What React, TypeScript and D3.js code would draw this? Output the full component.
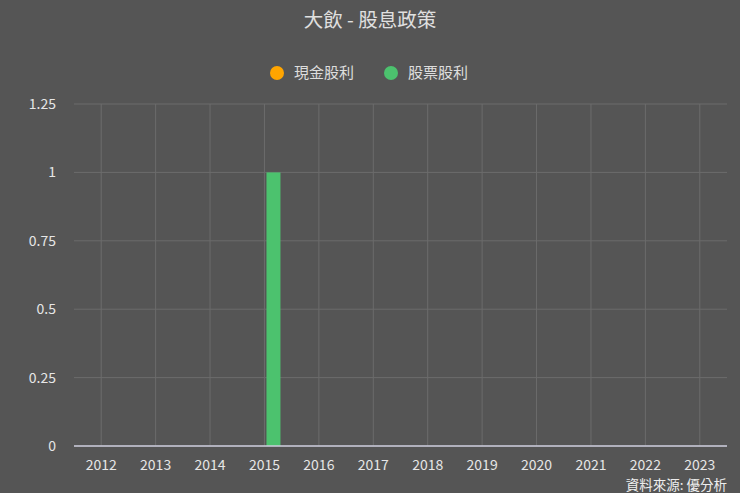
import React from "react"
import * as d3 from "d3"

const years = ["2012", "2013", "2014", "2015", "2016", "2017", "2018", "2019", "2020", "2021", "2022", "2023"]
const cashDividend = [0, 0, 0, 0, 0, 0, 0, 0, 0, 0, 0, 0]
const stockDividend = [0, 0, 0, 1, 0, 0, 0, 0, 0, 0, 0, 0]
const yTicks = [0, 0.25, 0.5, 0.75, 1, 1.25]
const seriesNames = ["現金股利", "股票股利"]
const seriesColors = ["#ffa500", "#4cc26e"]

const width = 740
const height = 493
const margin = {top: 104, right: 13, bottom: 47, left: 74}
const font = "'Noto Sans CJK TC', 'Noto Sans', sans-serif"

const App = () => {
    const x = d3.scaleBand<string>()
        .domain(years)
        .range([margin.left, width - margin.right])
    const x1 = d3.scaleBand<string>()
        .domain(seriesNames)
        .range([-12, 16])
    const y = d3.scaleLinear()
        .domain([0, 1.25])
        .range([height - margin.bottom, margin.top])

    const series = [cashDividend, stockDividend]
    const center = (yr: string) => (x(yr) ?? 0) + x.bandwidth() / 2

    return (
        <svg width={width} height={height}
             style={{position: "absolute", left: 0, top: 0, background: "#555555", fontFamily: font}}>
            <rect width={width} height={height} fill="#555555"/>
            <text x={width / 2} y={27} textAnchor="middle" fontSize={19.5} fill="#e0e0e0">大飲 - 股息政策</text>

            {/* legend */}
            {seriesNames.map((s, i) => {
                const lx = 277 + i 
                    * 114
                return (
                    <g key={s}>
                        <circle cx={lx} cy={73} r={7} fill={seriesColors[i]}/>
                        <text x={lx + 17} y={78} fontSize={15} fill="#dddddd">{s}</text>
                    </g>
                )
            })}

            {/* grid */}
            {yTicks.map(t => (
                <g key={t}>
                    <line x1={margin.left} x2={width - margin.right} y1={y(t)} y2={y(t)}
                          stroke="#6c6c6c" strokeWidth={1}/>
                    <text x={56} y={y(t) + 5} textAnchor="end" fontSize={14} fill="#e6e6e6">{t}</text>
                </g>
            ))}
            {years.map(yr => (
                <g key={yr}>
                    <line x1={center(yr)} x2={center(yr)} y1={margin.top} y2={height - margin.bottom}
                          stroke="#6c6c6c" strokeWidth={1}/>
                    <text x={center(yr)} y={470} textAnchor="middle" fontSize={14} fill="#e6e6e6">{yr}</text>
                </g>
            ))}

            {/* bars */}
            {series.map((vals, si) => vals.map((v, i) => {
                if (v <= 0) return null
                const bx = center(years[i]) + (x1(seriesNames[si]) ?? 0)
                return <rect key={`${si}-${i}`} x={bx} y={y(v)} width={x1.bandwidth()}
                             height={y(0) - y(v)} fill={seriesColors[si]}/>
            }))}

            {/* x axis line */}
            <line x1={margin.left} x2={width - margin.right} y1={y(0)} y2={y(0)} stroke="#ccccdd" strokeWidth={1.5}/>

            <text x={727} y={490} textAnchor="end" fontSize={13.5} fill="#eeeeee">資料來源: 優分析</text>
        </svg>
    )
}

export default App
